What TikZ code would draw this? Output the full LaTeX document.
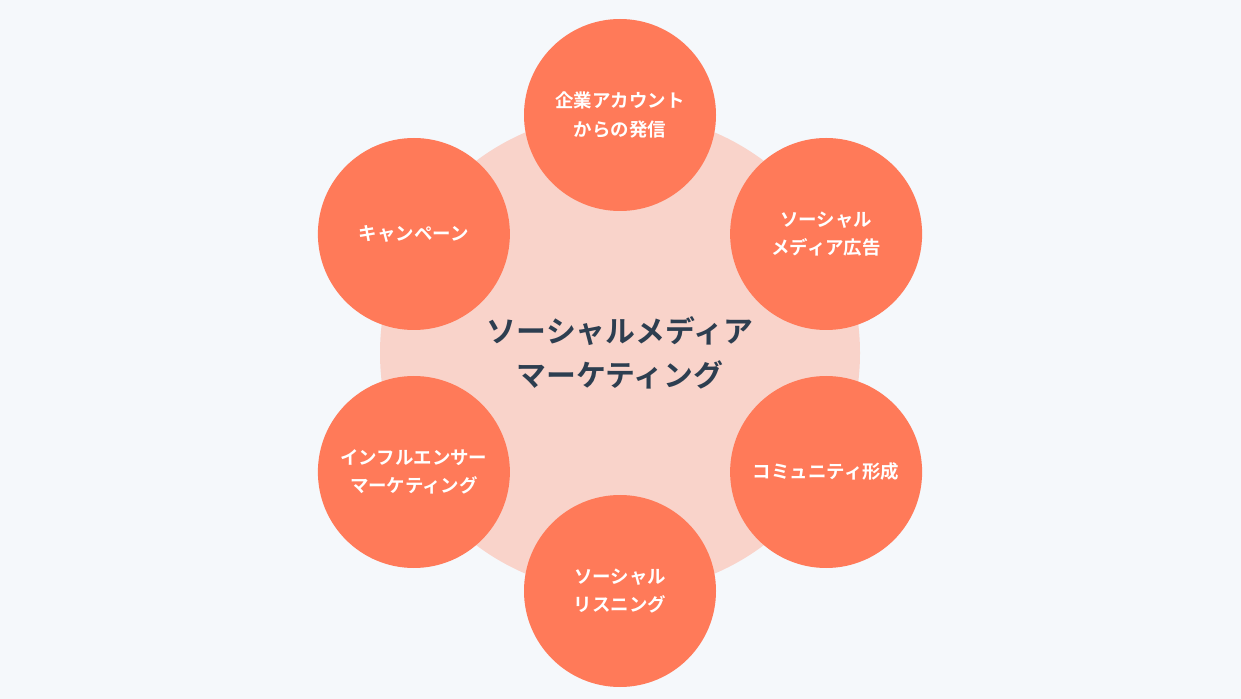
\documentclass[tikz,border=0pt]{standalone}
\usepackage{fontspec}
\newfontfamily\jpfont{Noto Sans CJK JP}[BoldFont={* Bold}]
\usetikzlibrary{positioning}
\definecolor{bgpale}{HTML}{F5F8FB}
\definecolor{hubfill}{HTML}{F9D3CA}
\definecolor{spokefill}{HTML}{FF7A59}
\definecolor{hubtext}{HTML}{2D3E50}
\begin{document}
\begin{tikzpicture}[  hub/.style = {circle, fill=hubfill, minimum size=9.6cm, align=center,
					font=\jpfont\bfseries\fontsize{17}{25}\selectfont, text=hubtext},
			spoke/.style = {circle, fill=spokefill, minimum size=3.84cm, align=center,
					font=\jpfont\bfseries\fontsize{10.5}{16}\selectfont, text=white}
		]
		\fill[bgpale] (0,0) rectangle (24.82,-13.98);
		\node [hub] (mkt) at (12.4,-7.06) {ソーシャルメディア\\マーケティング};
		\node [spoke] (acct) at ([shift={(90:4.76)}]mkt) {企業アカウント\\からの発信};
		\node [spoke] (ads) at ([shift={(30:4.76)}]mkt) {ソーシャル\\メディア広告};
		\node [spoke] (comm) at ([shift={(-30:4.76)}]mkt) {コミュニティ形成};
		\node [spoke] (listen) at ([shift={(-90:4.76)}]mkt) {ソーシャル\\リスニング};
		\node [spoke] (infl) at ([shift={(-150:4.76)}]mkt) {インフルエンサー\\マーケティング};
		\node [spoke] (camp) at ([shift={(150:4.76)}]mkt) {キャンペーン};
	\end{tikzpicture}
\end{document}
